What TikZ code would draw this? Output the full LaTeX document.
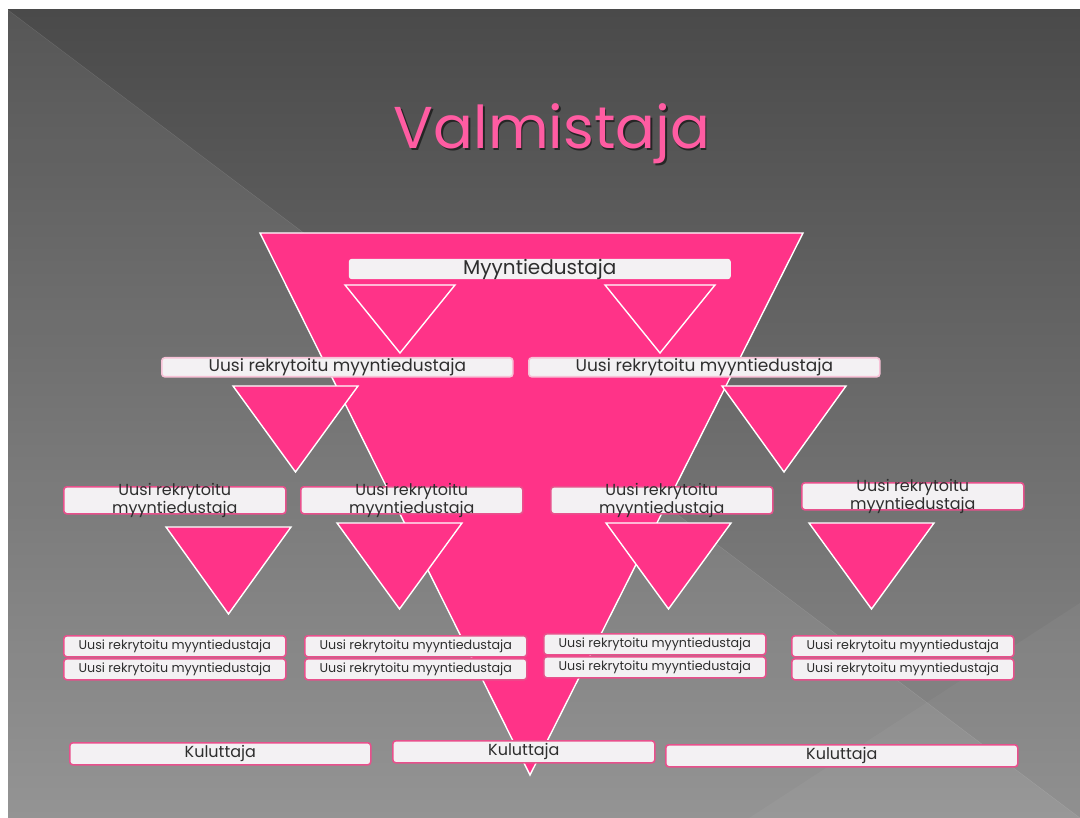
\documentclass[tikz,border=0pt]{standalone}
\usepackage{fontspec}
\setmainfont{Poppins}
\usetikzlibrary{calc, positioning}

\definecolor{slidedark}{HTML}{4A4A4A}
\definecolor{slidemid}{HTML}{555555}
\definecolor{slidelight}{HTML}{8C8C8C}
\definecolor{pinkfill}{HTML}{FF3388}
\definecolor{pinktitle}{HTML}{FF5CA2}
\definecolor{pinkedge}{HTML}{E8508C}
\definecolor{boxfill}{HTML}{F3F1F3}
\definecolor{boxtext}{HTML}{2E2E2E}

\begin{document}
\begin{tikzpicture}[x=1pt, y=-1pt,
        pinktri/.style={fill=pinkfill, draw=white, line width=1.4pt},
        rekrybox/.style={draw=pinkedge, line width=1.6pt, fill=boxfill, rounded corners=3pt,
                         inner sep=0pt, anchor=north west, text=boxtext},
        palebox/.style={rekrybox, draw=pinkedge!35},
        topbox/.style={rekrybox, draw=none},
        rekrytext/.style={text=boxtext, align=center, inner sep=0pt}]

        \useasboundingbox (0,0) rectangle (1080,818);
        \fill[white] (0,0) rectangle (1080,818);
        \shade[top color=slidedark, middle color=slidemid, bottom color=slidelight] (8,10) rectangle (1080,818);
        \fill[white, opacity=0.07] (8,10) -- (1080,818) -- (8,818) -- cycle;
        \fill[white, opacity=0.04] (749,818) -- (1080,603) -- (1080,818) -- cycle;
        \draw[white, opacity=0.12] (8,10) -- (1080,818);

        \node[anchor=base, text=black, opacity=0.55, font=\fontsize{59}{59}\selectfont] at (553.5,150.5) {Valmistaja};
        \node[anchor=base, text=pinktitle, font=\fontsize{59}{59}\selectfont] (title) at (552,149) {Valmistaja};

        \coordinate (A) at (260,233);
        \coordinate (B) at (803,233);
        \coordinate (C) at (530,775);
        \draw[pinktri] (A) -- (B) -- (C) -- cycle;

        \foreach \l/\r/\t/\b in
        {345/455/285/353, 605/715/285/353,
         233/358/386/472, 722/846/386/472,
         166/291/527/614, 337/462/523/609, 606/731/523/609, 809/934/523/609}
        {
            \draw[pinktri] (\l,\t) -- (\r,\t) -- ({(\l+\r)/2},\b) -- cycle;
        };

        \node[topbox, minimum width=382pt, minimum height=19pt,
              font=\fontsize{20}{20}\selectfont] (myynti) at (348,258) {Myyntiedustaja};

        \foreach \c/\x in {1/161, 2/528}
        {
            \node[palebox, minimum width=351pt, minimum height=19pt,
                  font=\fontsize{17}{17}\selectfont] (uusi\c) at (\x,357) {Uusi rekrytoitu myyntiedustaja};
        };

        \foreach \c/\x/\y in {1/63/486, 2/300/486, 3/550/486, 4/801/482}
        {
            \node[rekrybox, minimum width=222pt, minimum height=27pt] (taso\c) at (\x,\y) {};
            \node[rekrytext, font=\fontsize{16}{18}\selectfont] (tasoteksti\c) at (taso\c.center)
                {Uusi rekrytoitu\\myyntiedustaja};
        };

        \foreach \c/\x/\y in {1/63/635, 2/304/635, 3/543/633, 4/791/635}
        {
            \node[rekrybox, minimum width=222pt, minimum height=21pt,
                  font=\fontsize{12.7}{12.7}\selectfont] (ala\c a) at (\x,\y) {Uusi rekrytoitu myyntiedustaja};
            \node[rekrybox, minimum width=222pt, minimum height=21pt,
                  font=\fontsize{12.7}{12.7}\selectfont] (ala\c b) at (\x,\y+23) {Uusi rekrytoitu myyntiedustaja};
        };

        \foreach \n/\x/\y/\w in {kulu1/69/742/301, kulu2/392/740/262, kulu3/665/744/352}
        {
            \node[rekrybox, minimum width=\w pt, minimum height=22pt,
                  font=\fontsize{16}{16}\selectfont] (\n) at (\x,\y) {Kuluttaja};
        };
    \end{tikzpicture}
\end{document}
